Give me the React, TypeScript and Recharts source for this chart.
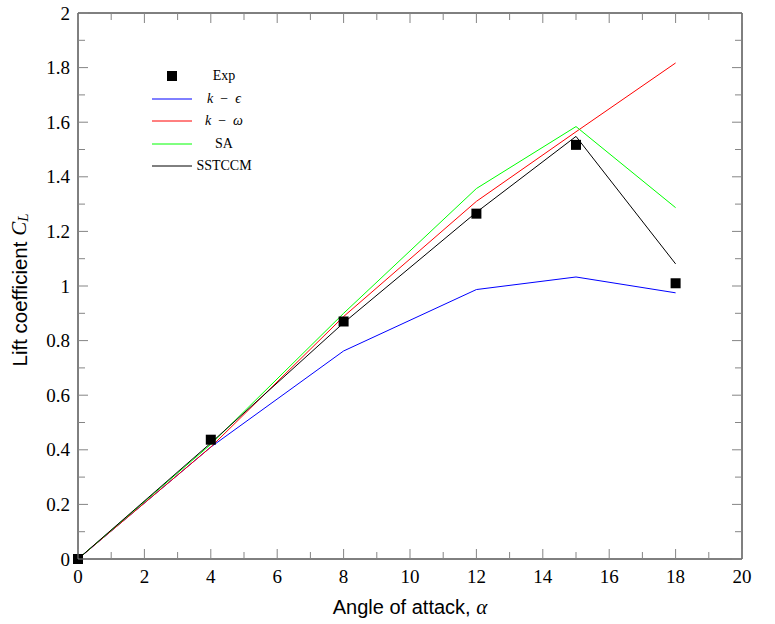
import React from "react";
import {
  ComposedChart,
  Line,
  XAxis,
  YAxis,
  Legend,
  Label,
} from "recharts";

// angle of attack (deg)
const alpha = [0, 4, 8, 12, 15, 18];

// lift coefficient per model
const expCl = [0, 0.437, 0.87, 1.265, 1.517, 1.01];
const kEpsCl = [0, 0.41, 0.762, 0.987, 1.033, 0.975];
const kOmegaCl = [0, 0.41, 0.888, 1.31, 1.565, 1.817];
const saCl = [0, 0.42, 0.9, 1.357, 1.584, 1.287];
const sstccmCl = [0, 0.425, 0.865, 1.27, 1.548, 1.081];

const xTicks = [0, 1, 2, 3, 4, 5, 6, 7, 8, 9, 10, 11, 12, 13, 14, 15, 16, 17, 18, 19, 20];
const yTicks = [
  0, 0.1, 0.2, 0.3, 0.4, 0.5, 0.6, 0.7, 0.8, 0.9, 1, 1.1, 1.2, 1.3, 1.4, 1.5, 1.6,
  1.7, 1.8, 1.9, 2,
];

const data = alpha.map((a, i) => ({
  alpha: a,
  exp: expCl[i],
  kEps: kEpsCl[i],
  kOmega: kOmegaCl[i],
  sa: saCl[i],
  sstccm: sstccmCl[i],
}));

const SERIF = "'Liberation Serif', 'Times New Roman', serif";
const SANS = "'Liberation Sans', Arial, sans-serif";
const TICK_COLOR = "#858585";
const MAJOR = 10;
const MINOR = 7;

const isMajorX = (v: number) => Math.round(v) % 2 === 0;
const isMajorY = (v: number) => Math.round(v * 10) % 2 === 0;

const BottomTick = (props: any) => {
  const { x, y, payload } = props;
  const v = payload.value;
  const major = isMajorX(v);
  return (
    <g>
      <line x1={x} x2={x} y1={y} y2={y - (major ? MAJOR : MINOR)} stroke={TICK_COLOR} />
      {major && (
        <text x={x} y={y + 17} textAnchor="middle" dominantBaseline="central" fontFamily={SERIF} fontSize={19} fill="#000">
          {v}
        </text>
      )}
    </g>
  );
};

// top axis: x is the tick position, y is the axis line
const TopTick = (props: any) => {
  const { x, y, payload } = props;
  const major = isMajorX(payload.value);
  return <line x1={x} x2={x} y1={y} y2={y + (major ? MAJOR : MINOR)} stroke={TICK_COLOR} />;
};

const LeftTick = (props: any) => {
  const { x, y, payload } = props;
  const v = payload.value;
  const major = isMajorY(v);
  return (
    <g>
      <line x1={x} x2={x + (major ? MAJOR : MINOR)} y1={y} y2={y} stroke={TICK_COLOR} />
      {major && (
        <text x={x - 8} y={y} textAnchor="end" dominantBaseline="central" fontFamily={SERIF} fontSize={19} fill="#000">
          {String(v)}
        </text>
      )}
    </g>
  );
};

const RightTick = (props: any) => {
  const { x, y, payload } = props;
  const major = isMajorY(payload.value);
  return <line x1={x} x2={x - (major ? MAJOR : MINOR)} y1={y} y2={y} stroke={TICK_COLOR} />;
};

const XTitle = (props: any) => {
  const vb = props.viewBox || { x: 78, y: 559, width: 664, height: 65 };
  return (
    <text x={vb.x + vb.width / 2} y={vb.y + 48} textAnchor="middle" dominantBaseline="central" fontFamily={SANS} fontSize={20} fill="#000">
      Angle of attack,{" "}
      <tspan fontFamily={SERIF} fontStyle="italic" fontSize={21}>α</tspan>
    </text>
  );
};

const YTitle = (props: any) => {
  const vb = props.viewBox || { x: 0, y: 13, width: 78, height: 546 };
  const cx = vb.x + 19;
  const cy = vb.y + vb.height / 2 + 4;
  return (
    <text
      transform={`translate(${cx}, ${cy}) rotate(-90)`}
      textAnchor="middle"
      dominantBaseline="central"
      fontFamily={SANS}
      fontSize={20.5}
      fill="#000"
    >
      Lift coefficient{" "}
      <tspan fontFamily={SERIF} fontStyle="italic" fontSize={21}>C</tspan>
      <tspan fontFamily={SERIF} fontStyle="italic" fontSize={15} dy={4}>L</tspan>
    </text>
  );
};

const legendOrder = ["Exp", "k-eps", "k-omega", "SA", "SSTCCM"];

const LegendLabel = ({ name }: { name: string }) => {
  const it: React.CSSProperties = { fontStyle: "italic" };
  if (name === "k-eps")
    return (
      <span>
        <span style={it}>k</span>{"\u2002−\u2002"}<span style={it}>ϵ</span>
      </span>
    );
  if (name === "k-omega")
    return (
      <span>
        <span style={it}>k</span>{"\u2002−\u2002"}<span style={it}>ω</span>
      </span>
    );
  return <span>{name}</span>;
};

const LegendContent = (props: any) => {
  const items = [...(props.payload || [])]
    .filter((it: any) => legendOrder.includes(it.value))
    .sort((a: any, b: any) => legendOrder.indexOf(a.value) - legendOrder.indexOf(b.value));
  return (
    <div style={{ fontFamily: SERIF, fontSize: 14, color: "#000" }}>
      {items.map((item: any) => (
        <div key={item.value} style={{ display: "flex", alignItems: "center", height: 22.5 }}>
          <svg width={40} height={12} style={{ display: "block" }}>
            {item.value === "Exp" ? (
              <rect x={15} y={1} width={10} height={10} fill="#000" />
            ) : (
              <line x1={0} x2={40} y1={6} y2={6} stroke={item.color} strokeWidth={1} />
            )}
          </svg>
          <div style={{ width: 64, textAlign: "center", whiteSpace: "nowrap" }}>
            <LegendLabel name={item.value} />
          </div>
        </div>
      ))}
    </div>
  );
};

const ExpDot = (props: any) => {
  const { cx, cy, index } = props;
  if (cx == null || cy == null) return <g key={`exp-${index}`} />;
  return <rect key={`exp-${index}`} x={cx - 5} y={cy - 5} width={10} height={10} fill="#000" />;
};

export default function App() {
  return (
    <div style={{ position: "absolute", left: 0, top: 0, background: "#fff" }}>
      <ComposedChart
        width={775}
        height={624}
        data={data}
        margin={{ top: 12, right: 32, left: 0, bottom: 0 }}
      >
        <XAxis
          xAxisId="bottom"
          dataKey="alpha"
          type="number"
          domain={[0, 20]}
          ticks={xTicks}
          interval={0}
          height={65}
          tickSize={0}
          tickMargin={0}
          tick={<BottomTick />}
          axisLine={{ stroke: "#000", strokeWidth: 1 }}
          tickLine={false}
        >
          <Label content={<XTitle />} />
        </XAxis>
        <XAxis
          xAxisId="top"
          orientation="top"
          dataKey="alpha"
          type="number"
          domain={[0, 20]}
          ticks={xTicks}
          interval={0}
          height={1}
          tickSize={0}
          tickMargin={0}
          tick={<TopTick />}
          axisLine={{ stroke: "#000", strokeWidth: 1 }}
          tickLine={false}
        />
        <YAxis
          yAxisId="left"
          type="number"
          domain={[0, 2]}
          ticks={yTicks}
          interval={0}
          width={78}
          tickSize={0}
          tickMargin={0}
          tick={<LeftTick />}
          axisLine={{ stroke: "#000", strokeWidth: 1 }}
          tickLine={false}
        >
          <Label content={<YTitle />} />
        </YAxis>
        <YAxis
          yAxisId="right"
          orientation="right"
          type="number"
          domain={[0, 2]}
          ticks={yTicks}
          interval={0}
          width={1}
          tickSize={0}
          tickMargin={0}
          tick={<RightTick />}
          axisLine={{ stroke: "#000", strokeWidth: 1 }}
          tickLine={false}
        />
        <Legend
          content={<LegendContent />}
          layout="vertical"
          verticalAlign="middle"
          align="center"
          wrapperStyle={{ left: 152, top: 65, width: 110 }}
        />
        {/* invisible series so the top and right frame axes get drawn */}
        <Line xAxisId="top" yAxisId="right" dataKey="exp" stroke="none" dot={false} activeDot={false} legendType="none" isAnimationActive={false} />
        <Line xAxisId="bottom" yAxisId="left" name="k-eps" dataKey="kEps" stroke="#0000ff" strokeWidth={1} dot={false} activeDot={false} isAnimationActive={false} />
        <Line xAxisId="bottom" yAxisId="left" name="k-omega" dataKey="kOmega" stroke="#ff0000" strokeWidth={1} dot={false} activeDot={false} isAnimationActive={false} />
        <Line xAxisId="bottom" yAxisId="left" name="SA" dataKey="sa" stroke="#00ff00" strokeWidth={1} dot={false} activeDot={false} isAnimationActive={false} />
        <Line xAxisId="bottom" yAxisId="left" name="SSTCCM" dataKey="sstccm" stroke="#000000" strokeWidth={1} dot={false} activeDot={false} isAnimationActive={false} />
        <Line xAxisId="bottom" yAxisId="left" name="Exp" dataKey="exp" stroke="none" dot={ExpDot} activeDot={false} isAnimationActive={false} />
      </ComposedChart>
    </div>
  );
}
